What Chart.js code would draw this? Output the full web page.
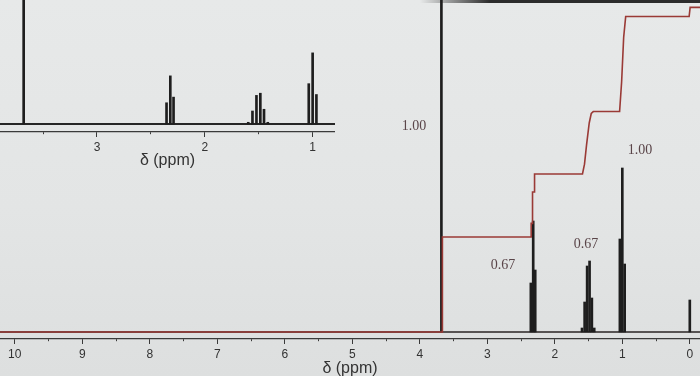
<!DOCTYPE html>
<html><head><meta charset="utf-8">
<script src="https://cdn.jsdelivr.net/npm/chart.js@4.4.1/dist/chart.umd.min.js"></script>
<style>
html,body{margin:0;padding:0;width:700px;height:376px;overflow:hidden;}
body{background:linear-gradient(180deg,#e7e9e9 0%,#e3e5e5 55%,#dddfdf 100%);position:relative;}
#main{position:absolute;left:0;top:0;}
#inset{position:absolute;left:0;top:0;}
#bezel{position:absolute;left:420px;top:0;width:280px;height:3px;background:linear-gradient(90deg,rgba(40,40,40,0),#2c2c2c 25%);}
</style></head><body>
<div id="bezel"></div>
<canvas id="main" width="700" height="378"></canvas>
<canvas id="inset" width="335" height="170"></canvas>
<script>
// ---- data (chemical shift in ppm, intensity in arbitrary units) ----
const peakShifts  = [3.68, 2.355, 2.32, 2.29, 1.597, 1.558, 1.521, 1.485, 1.451, 1.416, 1.036, 1.0, 0.965, 0.0];
const peakHeights = [600, 49, 111, 62, 4, 30, 66, 71, 34, 4, 93, 164, 68, 32];
// integral trace (cumulative, proton units)
const integralShifts = [10.22, 3.665, 3.665, 2.35, 2.35, 2.33, 2.33, 2.30, 2.30, 1.59, 1.56, 1.53, 1.49, 1.46, 1.43, 1.04, 1.01, 0.98, 0.95, 0.01, -0.005, -0.16];
const integralValues = [0, 0, 3.0, 3.0, 3.43, 3.43, 4.42, 4.42, 4.99, 4.99, 5.3, 5.9, 6.6, 6.9, 6.96, 6.96, 7.9, 9.3, 9.96, 9.96, 10.25, 10.25];
const integralLabels = ['1.00', '0.67', '0.67', '1.00'];
// tick labels
const mainTicks  = [0, 0.5, 1, 1.5, 2, 2.5, 3, 3.5, 4, 4.5, 5, 5.5, 6, 6.5, 7, 7.5, 8, 8.5, 9, 9.5, 10];
const insetTicks = [1, 1.5, 2, 2.5, 3, 3.5];
const axisTitle = 'δ (ppm)';

// ---- presentation ----
const ink = '#1e1e1e';
const axisColor = '#3a3a3a';
const integralColor = '#9a3a36';
const sans = "'Liberation Sans', Arial, sans-serif";
const serif = "'Liberation Serif', 'Times New Roman', serif";
const labelAnchors = [
  {ppm: 4.086, h: 6.5},
  {ppm: 2.767, h: 2.12},
  {ppm: 1.538, h: 2.78},
  {ppm: 0.738, h: 5.75}
];

const peakData = peakShifts.map((x, i) => ({x: x, y: peakHeights[i]}));
const integralData = integralShifts.map((x, i) => ({x: x, y: integralValues[i]}));

const baselinePlugin = {
  id: 'baseline',
  beforeDatasetsDraw(chart, args, opts) {
    const {ctx, chartArea, scales} = chart;
    const y = scales.y.getPixelForValue(0);
    ctx.save();
    ctx.strokeStyle = opts.color;
    ctx.lineWidth = opts.width;
    ctx.beginPath();
    ctx.moveTo(chartArea.left, y);
    ctx.lineTo(chartArea.right, y);
    ctx.stroke();
    ctx.restore();
  }
};

const labelPlugin = {
  id: 'intLabels',
  afterDatasetsDraw(chart, args, opts) {
    if (!opts.anchors) return;
    const {ctx, scales} = chart;
    ctx.save();
    ctx.font = '14px ' + serif;
    ctx.fillStyle = '#5a4549';
    ctx.textAlign = 'center';
    ctx.textBaseline = 'middle';
    opts.anchors.forEach((a, i) => {
      ctx.fillText(integralLabels[i], scales.x.getPixelForValue(a.ppm), scales.y2.getPixelForValue(a.h));
    });
    ctx.restore();
  }
};

function xScale(min, max, ticks, height, fontSize) {
  return {
    type: 'linear', reverse: true, min: min, max: max, offset: false,
    afterBuildTicks: s => { s.ticks = ticks.map(v => ({value: v})); },
    afterFit: s => { s.height = height; },
    grid: {
      display: true, drawOnChartArea: false, drawTicks: true, offset: false,
      tickLength: 5, tickColor: axisColor, tickWidth: 1,
      tickBorderDash: c => (c.tick && Number.isInteger(c.tick.value)) ? [] : [2, 20]
    },
    border: {display: true, color: axisColor, width: 1.2},
    ticks: {
      autoSkip: false, maxRotation: 0, padding: 3, color: '#333',
      font: {family: sans, size: fontSize},
      callback: v => Number.isInteger(v) ? String(v) : ''
    },
    title: {display: true, text: axisTitle, color: '#333', font: {family: sans, size: 16}, padding: {top: 0, bottom: 0}}
  };
}

new Chart(document.getElementById('main'), {
  type: 'bar',
  data: {
    datasets: [
      {type: 'line', data: integralData, yAxisID: 'y2', borderColor: integralColor, borderWidth: 1.6, pointRadius: 0, tension: 0, fill: false},
      {type: 'bar', data: peakData, yAxisID: 'y', backgroundColor: ink, barThickness: 2, borderWidth: 0}
    ]
  },
  options: {
    responsive: false, animation: false, devicePixelRatio: 1,
    layout: {padding: 0},
    plugins: {legend: {display: false}, tooltip: {enabled: false},
      baseline: {color: '#2a2424', width: 1.6},
      intLabels: {anchors: labelAnchors}},
    scales: {
      x: xScale(-0.151, 10.219, mainTicks, 39, 12),
      y: {type: 'linear', display: false, min: -7, max: 332},
      y2: {type: 'linear', display: false, min: -0.221, max: 10.483}
    }
  },
  plugins: [baselinePlugin, labelPlugin]
});

new Chart(document.getElementById('inset'), {
  type: 'bar',
  data: {datasets: [{data: peakData, backgroundColor: ink, barThickness: 2, borderWidth: 0}]},
  options: {
    responsive: false, animation: false, devicePixelRatio: 1,
    layout: {padding: 0},
    plugins: {legend: {display: false}, tooltip: {enabled: false},
      baseline: {color: '#262626', width: 2}},
    scales: {
      x: xScale(0.7926, 3.8995, insetTicks, 38, 12),
      y: {type: 'linear', display: false, min: -18.4, max: 285.9}
    }
  },
  plugins: [baselinePlugin]
});
</script>
</body></html>
